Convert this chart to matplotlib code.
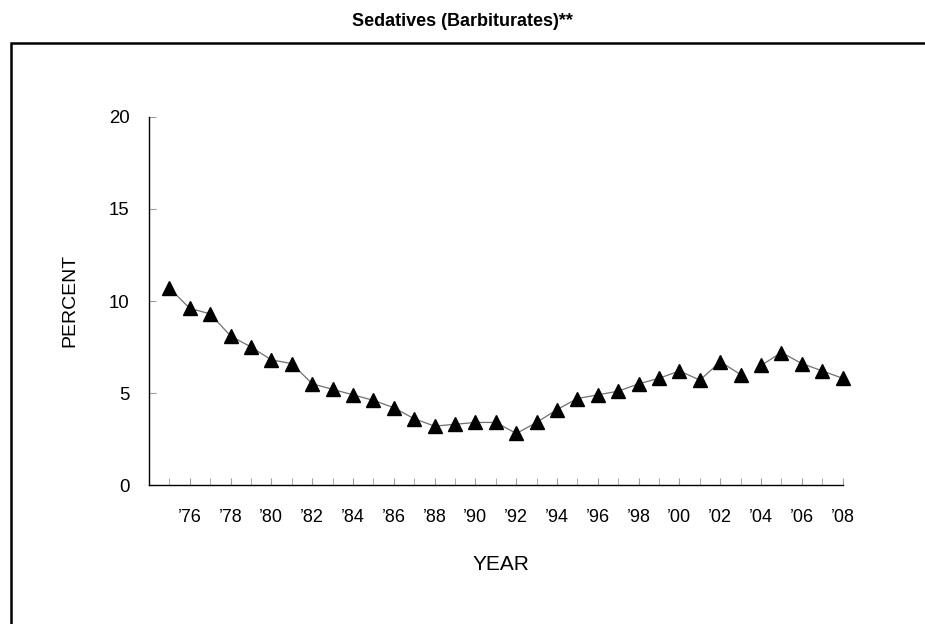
import matplotlib
matplotlib.use("Agg")
import matplotlib.pyplot as plt
from matplotlib.patches import Rectangle

years = list(range(1975, 2009))
values = [10.7, 9.6, 9.3, 8.1, 7.5, 6.8, 6.6, 5.5, 5.2, 4.9, 4.6, 4.2, 3.6, 3.2,
          3.3, 3.4, 3.4, 2.8, 3.4, 4.1, 4.7, 4.9, 5.1, 5.5, 5.8, 6.2, 5.7, 6.7,
          6.0, 6.5, 7.2, 6.6, 6.2, 5.8]
break_year = 2004  # line is broken between 2003 and 2004
tick_years = list(range(1976, 2009, 2))
tick_labels = ["\u2019%02d" % (y % 100) for y in tick_years]
yticks = [0, 5, 10, 15, 20]

plt.rcParams['font.family'] = ['Liberation Sans', 'DejaVu Sans']

W, H = 925, 624
fig = plt.figure(figsize=(W / 100, H / 100), dpi=100)
ax = fig.add_axes([149 / W, (H - 485) / H, (842.7 - 149) / W, (485 - 117) / H])

i_break = years.index(break_year)
seg1_x, seg1_y = years[:i_break], values[:i_break]
seg2_x, seg2_y = years[i_break:], values[i_break:]
for sx, sy in ((seg1_x, seg1_y), (seg2_x, seg2_y)):
    ax.plot(sx, sy, color='#707070', lw=0.9, zorder=2, clip_on=False)
ax.plot(years, values, ls='none', marker='^', ms=10, color='black', zorder=3, clip_on=False)

ax.set_xlim(1974, 2008)
ax.set_ylim(0, 20)
ax.set_xticks(years, minor=True)
ax.set_xticks(tick_years)
ax.set_xticklabels(tick_labels, fontsize=13)
ax.set_yticks(yticks)
ax.set_yticklabels([str(v) for v in yticks], fontsize=13.4)
ax.tick_params(axis='x', which='both', direction='in', length=5, color='#a0a0a0', pad=17.5)
ax.tick_params(axis='y', which='both', direction='in', length=5, color='#a0a0a0', pad=14)

for s in ('top', 'right'):
    ax.spines[s].set_visible(False)
for s in ('left', 'bottom'):
    ax.spines[s].set_linewidth(1.0)
    ax.spines[s].set_color('black')

fig.text(70 / W, 1 - 300 / H, 'PERCENT', rotation=90, ha='center', va='center', fontsize=14)
fig.text(501 / W, 1 - 565 / H, 'YEAR', ha='center', va='center', fontsize=15)
fig.text(462 / W, 1 - 22 / H, 'Sedatives (Barbiturates)**', ha='center', va='center',
         fontsize=13, fontweight='bold',
         family=['Liberation Sans Narrow', 'Liberation Sans', 'DejaVu Sans'])

fig.patches.append(Rectangle((11 / W, -0.1), 1.0, 1 - 43 / H + 0.1, transform=fig.transFigure,
                             fill=False, lw=1.8, edgecolor='black'))

fig.savefig('out.png', dpi=100)
